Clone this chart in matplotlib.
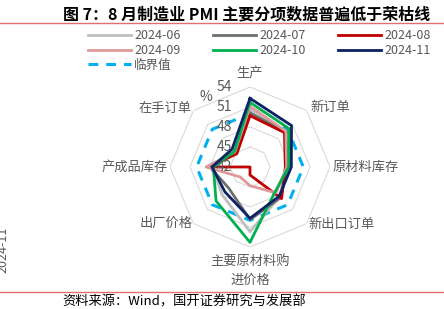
import numpy as np
import matplotlib.pyplot as plt
from matplotlib.lines import Line2D

plt.rcParams['font.family'] = ['Noto Sans CJK SC', 'DejaVu Sans']

# radar axes, clockwise from top
cats = ['生产', '新订单', '原材料库存', '新出口订单', '主要原材料购\n进价格', '出厂价格', '产成品库存', '在手订单']
months = ['2024-06', '2024-07', '2024-08', '2024-09', '2024-10', '2024-11']
jun = [50.6, 49.6, 47.4, 48.3, 51.7, 47.9, 47.5, 45.0]
jul = [50.1, 49.5, 47.6, 48.5, 49.9, 46.5, 48.0, 45.3]
aug = [49.7, 49.3, 47.3, 48.7, 43.2, 42.0, 48.3, 44.8]
sep = [51.1, 49.6, 47.5, 47.5, 44.8, 44.1, 48.6, 45.2]
oct_ = [51.7, 50.2, 47.8, 47.3, 53.3, 49.2, 47.5, 45.3]
nov = [52.3, 50.8, 48.2, 48.2, 49.7, 47.3, 47.7, 45.8]
series = [jun, jul, aug, sep, oct_, nov]
colors = ['#bfbfbf', '#6f6f6f', '#c00000', '#dc9a9a', '#00b050', '#0b2265']
threshold = 50
rticks = [42, 45, 48, 51, 54]

n = len(cats)
theta = np.arange(n) * 2 * np.pi / n
th_c = np.append(theta, theta[0])

fig = plt.figure(figsize=(4.44, 3.09), dpi=100)
ax = fig.add_axes([170/444, 1 - 247/309, 160/444, 160/309], projection='polar')
ax.set_theta_zero_location('N')
ax.set_theta_direction(-1)
ax.set_rlim(rticks[0], rticks[-1])
ax.grid(False)
ax.spines['polar'].set_visible(False)
ax.set_xticks([])
ax.set_yticks([])
ax.set_facecolor('none')

# octagon grid
for t in rticks[1:]:
    ax.plot(th_c, [t] * (n + 1), color='#d9d9d9', lw=0.8, zorder=1)

# critical line
crit, = ax.plot(th_c, [threshold] * (n + 1), color='#00b0f0', lw=2.2,
                linestyle=(0, (3.2, 2.6)), zorder=2)

handles = []
for vals, c in zip(series, colors):
    h, = ax.plot(th_c, vals + vals[:1], color=c, lw=2.0, zorder=3)
    handles.append(h)

# category labels
gray = '#595959'
lab_pos = [((0, 14), 'center', 'center'), ((4, 3), 'left', 'center'),
           ((3, 0), 'left', 'center'), ((2, -1), 'left', 'center'),
           ((0, -8), 'center', 'top'), ((-1, 0), 'right', 'center'),
           ((-2, 0), 'right', 'center'), ((-2, 2), 'right', 'center')]
for th, name, (off, ha, va) in zip(theta, cats, lab_pos):
    ax.annotate(name, xy=(th, rticks[-1]), xytext=off, textcoords='offset pixels',
                ha=ha, va=va, fontsize=9.5, color=gray, linespacing=1.55,
                annotation_clip=False)

# radial tick labels
for t in rticks:
    ax.annotate(str(t), xy=(0, t), xytext=(-18, 0), textcoords='offset pixels',
                ha='right', va='center', fontsize=10, color=gray, annotation_clip=False)
ax.annotate('%', xy=(0, rticks[-1]), xytext=(-44, -10), textcoords='offset pixels',
            ha='center', va='center', fontsize=10, color=gray, annotation_clip=False)

# legend: column-major order for 3 columns
order = [0, 3, 6, 1, 4, 2, 5]
all_h = handles + [crit]
all_l = months + ['临界值']
fig.legend([all_h[i] for i in order], [all_l[i] for i in order], ncol=3,
           loc='upper left', bbox_to_anchor=(88/444, 1 - 29/309), frameon=False,
           fontsize=9, labelcolor=gray, handlelength=3.4, handletextpad=0.3,
           columnspacing=2.6, labelspacing=0.15, borderpad=0, borderaxespad=0)

# title, rules and source
fig.text(247/444, 1 - 14/309, '图 7：8 月制造业 PMI 主要分项数据普遍低于荣枯线',
         ha='center', va='center', fontsize=11.5, fontweight='bold', color='black')
fig.add_artist(Line2D([0, 1], [1 - 23/309] * 2, color='#e07070', lw=1.0))
fig.add_artist(Line2D([0, 1], [1 - 292/309] * 2, color='#e07070', lw=1.0))
fig.text(62/444, 1 - 302/309, '资料来源：Wind，国开证券研究与发展部',
         ha='left', va='center', fontsize=9.5, color='black')
# cut-off text from the neighbouring chart
fig.text(-4/444, 1 - 250/309, '2024-11', rotation=90, ha='left', va='center',
         fontsize=9, color=gray)

fig.savefig('out.png', dpi=100)
